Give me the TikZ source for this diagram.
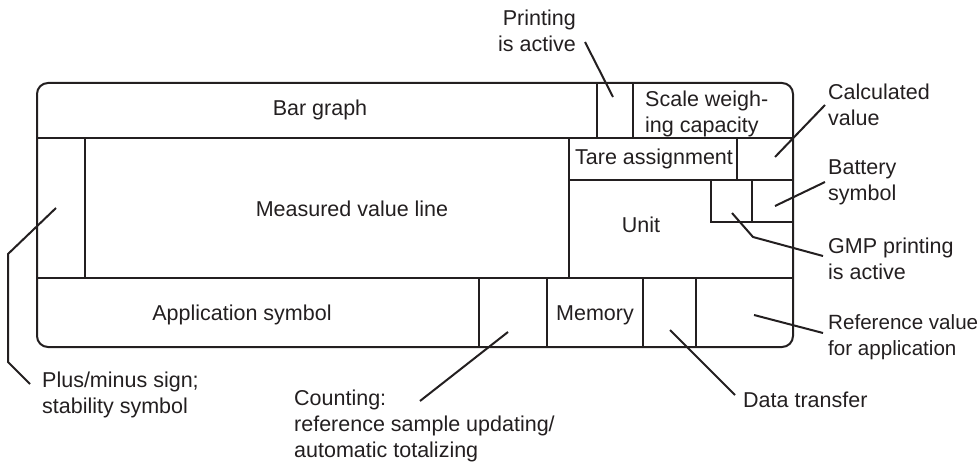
\documentclass[tikz,border=0pt]{standalone}
\usepackage{fontspec}
\setmainfont{Liberation Sans}
\definecolor{ink}{HTML}{231F20}
\begin{document}
\begin{tikzpicture}[x=1pt,y=-1pt,
  frame/.style={draw=ink,line width=2pt},
  leader/.style={draw=ink,line width=2pt},
  lbl/.style={inner sep=0pt,text=ink,font=\fontsize{21.5}{26}\selectfont,align=left,anchor=north west},
  rlbl/.style={lbl,align=right,anchor=north east},
  box/.style={inner sep=0pt,text=ink,font=\fontsize{21.5}{26}\selectfont,anchor=base}]
\useasboundingbox (0,0) rectangle (980,465);
% display frame
\draw[frame,rounded corners=11pt] (37,83) rectangle (793,347);
\draw[frame] (37,138) -- (793,138);
\draw[frame] (37,278) -- (793,278);
\draw[frame] (85,138) -- (85,278);
\draw[frame] (569,138) -- (569,278);
\draw[frame] (597,83) -- (597,138);
\draw[frame] (633,83) -- (633,138);
\draw[frame] (569,180) -- (793,180);
\draw[frame] (737,138) -- (737,180);
\draw[frame] (711,180) -- (711,222) -- (793,222);
\draw[frame] (752,180) -- (752,222);
\foreach \xx in {479,547,643,696} \draw[frame] (\xx,278) -- (\xx,347);
% texts inside
\node[box] (bar) at (320,116) {Bar graph};
\node[box] (meas) at (352,217) {Measured value line};
\node[box] (app) at (242,320) {Application symbol};
\node[box] (mem) at (595,320) {Memory};
\node[box] (unit) at (641,233) {Unit};
\node[lbl] (tare) at (575,148.5) {Tare assignment};
\node[lbl] (scale) at (645,90.5) {Scale weigh-\\ing capacity};
% outside labels
\node[rlbl] (tprint) at (576,9.5) {Printing\\is active};
\node[lbl] (tcalc) at (828,83.5) {Calculated\\value};
\node[lbl] (tbatt) at (828,159.5) {Battery\\symbol};
\node[lbl] (tgmp) at (828,237.5) {GMP printing\\is active};
\node[lbl,font=\fontsize{20.6}{26.5}\selectfont] (tref) at (828,314) {Reference value\\for application};
\node[lbl] (tdata) at (743,391.5) {Data transfer};
\node[lbl] (tcount) at (294,389.5) {Counting:\\reference sample updating/\\automatic totalizing};
\node[lbl] (tpm) at (42,371.5) {Plus/minus sign;\\stability symbol};
% leader coordinates
\coordinate (printA) at (585,42);  \coordinate (printB) at (613,97);
\coordinate (calcA) at (825,105);  \coordinate (calcB) at (775,157);
\coordinate (battA) at (825,182);  \coordinate (battB) at (775,206);
\coordinate (gmpA) at (823,256);   \coordinate (gmpK) at (753,237); \coordinate (gmpB) at (732,213);
\coordinate (refA) at (823,333);   \coordinate (refB) at (754,315);
\coordinate (dataA) at (735,395);  \coordinate (dataB) at (670,330);
\coordinate (cntA) at (420,401);   \coordinate (cntB) at (508,332);
\coordinate (pmA) at (30,384);     \coordinate (pmK1) at (8,362); \coordinate (pmK2) at (8,254); \coordinate (pmB) at (56,208);
% leaders
\draw[leader] (printA) -- (printB);
\draw[leader] (calcA) -- (calcB);
\draw[leader] (battA) -- (battB);
\draw[leader] (gmpA) -- (gmpK) -- (gmpB);
\draw[leader] (refA) -- (refB);
\draw[leader] (dataA) -- (dataB);
\draw[leader] (cntA) -- (cntB);
\draw[leader] (pmA) -- (pmK1) -- (pmK2) -- (pmB);
\end{tikzpicture}
\end{document}
